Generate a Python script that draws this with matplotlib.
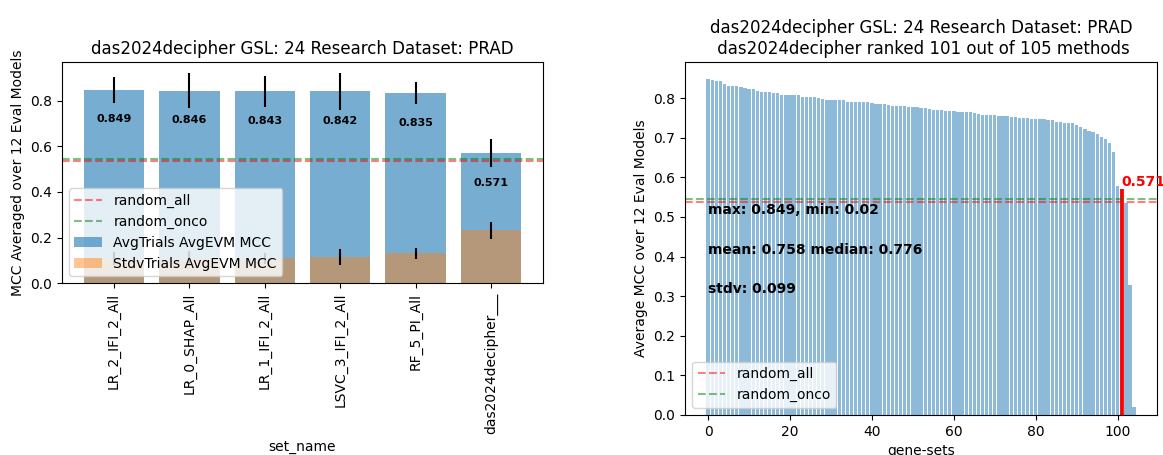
import numpy as np
import matplotlib.pyplot as plt

# top methods for the left panel
set_names = ["LR_2_IFI_2_All", "LR_0_SHAP_All", "LR_1_IFI_2_All",
             "LSVC_3_IFI_2_All", "RF_5_PI_All", "das2024decipher___"]
avg_mcc = [0.849, 0.846, 0.843, 0.842, 0.835, 0.571]
avg_mcc_err = [0.058, 0.079, 0.068, 0.082, 0.049, 0.060]
std_mcc = [0.108, 0.110, 0.108, 0.114, 0.130, 0.232]
std_mcc_err = [0.028, 0.030, 0.026, 0.035, 0.024, 0.038]

random_all = 0.537
random_onco = 0.545

# all gene-set methods, sorted by average MCC
ranked_mcc = [
    0.849, 0.846, 0.843, 0.842, 0.835, 0.830, 0.830, 0.830, 0.828, 0.825,
    0.823, 0.823, 0.818, 0.815, 0.815, 0.815, 0.813, 0.813, 0.809, 0.809,
    0.809, 0.809, 0.809, 0.804, 0.804, 0.804, 0.804, 0.801, 0.798, 0.796,
    0.796, 0.796, 0.794, 0.794, 0.791, 0.789, 0.789, 0.789, 0.789, 0.789,
    0.787, 0.785, 0.785, 0.785, 0.782, 0.781, 0.781, 0.781, 0.779, 0.778,
    0.778, 0.778, 0.776, 0.776, 0.773, 0.771, 0.771, 0.771, 0.768, 0.768,
    0.768, 0.766, 0.766, 0.766, 0.766, 0.763, 0.760, 0.757, 0.757, 0.757,
    0.757, 0.754, 0.754, 0.754, 0.752, 0.752, 0.751, 0.749, 0.749, 0.747,
    0.747, 0.747, 0.747, 0.744, 0.744, 0.740, 0.740, 0.737, 0.737, 0.737,
    0.732, 0.728, 0.722, 0.718, 0.714, 0.709, 0.703, 0.697, 0.686, 0.663,
    0.577, 0.571, 0.534, 0.328, 0.020,
]
method_rank = 101
method_score = 0.571
stats_lines = ["max: 0.849, min: 0.02", "mean: 0.758 median: 0.776", "stdv: 0.099"]

fig = plt.figure(figsize=(11.63, 4.55), dpi=100)
ax1 = fig.add_axes([0.0533, 0.378, 0.4136, 0.4857])
ax2 = fig.add_axes([0.589, 0.088, 0.406, 0.776])

# left: averaged MCC with the spread across trials
x = np.arange(len(set_names))
ax1.bar(x, avg_mcc, yerr=avg_mcc_err, color="tab:blue", alpha=0.6,
        label="AvgTrials AvgEVM MCC")
ax1.bar(x, std_mcc, yerr=std_mcc_err, color="tab:orange", alpha=0.45,
        label="StdvTrials AvgEVM MCC")
ax1.axhline(random_all, color="red", linestyle="--", alpha=0.5, label="random_all")
ax1.axhline(random_onco, color="green", linestyle="--", alpha=0.5, label="random_onco")
for xi, h in zip(x, avg_mcc):
    ax1.text(xi, h - 0.13, f"{h:.3f}", ha="center", va="center",
             fontsize=8, fontweight="bold")
ax1.set_xticks(x)
ax1.set_xticklabels(set_names, rotation=90)
ax1.set_xlabel("set_name")
ax1.set_ylabel("MCC Averaged over 12 Eval Models")
ax1.set_title("das2024decipher GSL: 24 Research Dataset: PRAD")
ax1.legend(loc="lower left")

# right: every method ranked, with this one highlighted
xr = np.arange(len(ranked_mcc))
ax2.bar(xr, ranked_mcc, color="tab:blue", alpha=0.5)
ax2.vlines(method_rank, 0, method_score, color="red", linewidth=2.7)
ax2.text(method_rank, method_score, f"{method_score:.3f}", color="red",
         fontweight="bold", ha="left", va="bottom", clip_on=False)
ax2.axhline(random_all, color="red", linestyle="--", alpha=0.5, label="random_all")
ax2.axhline(random_onco, color="green", linestyle="--", alpha=0.5, label="random_onco")
for y, s in zip([0.5, 0.4, 0.3], stats_lines):
    ax2.text(0, y, s, fontweight="bold", ha="left", va="bottom")
ax2.set_xlabel("gene-sets")
ax2.set_ylabel("Average MCC over 12 Eval Models")
ax2.set_title("das2024decipher GSL: 24 Research Dataset: PRAD\n"
              " das2024decipher ranked 101 out of 105 methods")
ax2.legend(loc="lower left")

fig.savefig("out.png", dpi=100)
